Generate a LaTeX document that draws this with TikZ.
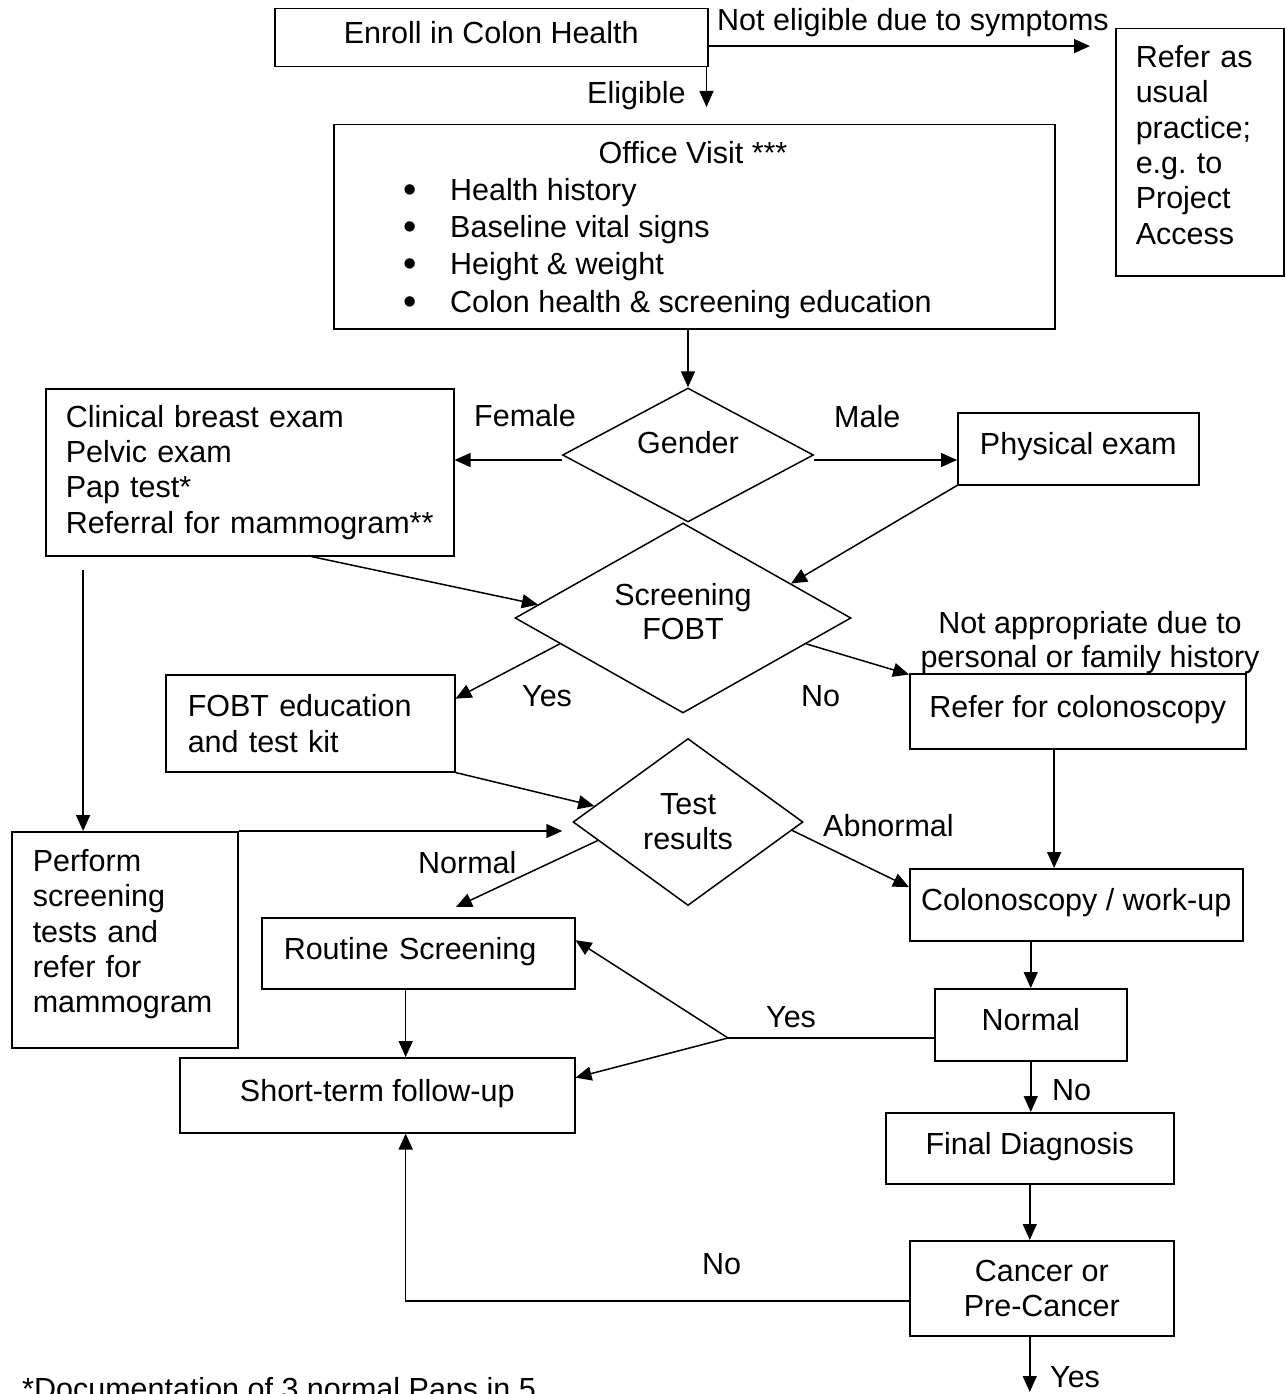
\documentclass[tikz,border=0pt]{standalone}
\usepackage{fontspec}
\setmainfont{Liberation Sans}
\usetikzlibrary{arrows.meta,shapes.geometric,calc}
\frenchspacing
\begin{document}
\begin{tikzpicture}[x=1pt,y=-1pt,
  every node/.style={font=\fontsize{30.5}{35.3}\selectfont},
  box/.style={draw, line width=1.5pt, anchor=north west, inner sep=0pt},
  one/.style={text height=22pt, text depth=10pt},
  dia/.style={draw, diamond, line width=1.5pt, inner sep=0pt},
  txt/.style={inner sep=0pt, align=center},
  lbl/.style={anchor=base west, inner sep=0pt},
  arr/.style={line width=1.5pt, -{Triangle[length=16pt,width=14pt]}},
  ln/.style={line width=1.5pt}]
\useasboundingbox (0,0) rectangle (1285,1394);

% boxes
\node[box,one,minimum width=433pt,minimum height=58pt] (enroll) at (274,8) {Enroll in Colon Health};
\node[box,minimum width=168pt,minimum height=247pt,align=left,text width=128pt,inner xsep=20pt] (refer) at (1115,28)
  {Refer as\\usual\\practice;\\e.g. to\\Project\\Access\rule[-15pt]{0pt}{1pt}};
\node[box,minimum width=721pt,minimum height=204pt] (office) at (333,124) {};
\node[anchor=base, inner sep=0pt] (ovtitle) at (693,164) {Office Visit ***};
\node[anchor=north west, inner sep=0pt, align=left, font=\fontsize{30.5}{37.3}\selectfont] (ovlist) at (403,178)
  {\makebox[47pt][l]{\raisebox{-2pt}{\fontsize{38}{38}\selectfont\textbullet}}Health history\\
   \makebox[47pt][l]{\raisebox{-2pt}{\fontsize{38}{38}\selectfont\textbullet}}Baseline vital signs\\
   \makebox[47pt][l]{\raisebox{-2pt}{\fontsize{38}{38}\selectfont\textbullet}}Height \& weight\\
   \makebox[47pt][l]{\raisebox{-2pt}{\fontsize{38}{38}\selectfont\textbullet}}Colon health \& screening education};
\node[box,minimum width=408pt,minimum height=167pt,align=left,text width=368pt,inner xsep=20pt] (clin) at (45,388)
  {Clinical breast exam\\Pelvic exam\\Pap test*\\Referral for mammogram**};
\node[box,one,minimum width=241pt,minimum height=72pt] (phys) at (957,412) {Physical exam};
\node[box,minimum width=289pt,minimum height=97pt,align=left,text width=245pt,inner xsep=22pt,
  font=\fontsize{30.5}{36}\selectfont] (fobtedu) at (165,674) {FOBT education\\and test kit};
\node[box,one,minimum width=336pt,minimum height=75pt] (refcol) at (909,673) {Refer for colonoscopy};
\node[box,minimum width=226pt,minimum height=216pt,align=left,text width=184pt,inner xsep=21pt] (perform) at (11,831)
  {Perform\\screening\\tests and\\refer for\\mammogram\rule[-17pt]{0pt}{1pt}};
\node[box,one,minimum width=333pt,minimum height=72pt] (colon) at (909,868) {Colonoscopy / work-up};
\node[box,one,minimum width=313pt,minimum height=71pt,align=left,text width=269pt,inner xsep=22pt] (routine) at (261,917) {Routine Screening};
\node[box,one,minimum width=192pt,minimum height=72pt] (normal) at (934,988) {Normal};
\node[box,one,minimum width=395pt,minimum height=75pt] (short) at (179,1057) {Short-term follow-up};
\node[box,one,minimum width=288pt,minimum height=71pt] (final) at (885,1112) {Final Diagnosis};
\node[box,minimum width=264pt,minimum height=95pt,align=center,font=\fontsize{30.5}{35}\selectfont] (cancer) at (909,1240) {Cancer or\\Pre-Cancer};

% diamonds
\node[dia,minimum width=251pt,minimum height=134pt] (gender) at (688,455) {};
\node[txt] (gtext) at (688,443) {Gender};
\node[dia,minimum width=336pt,minimum height=190pt] (fobt) at (683,618) {};
\node[txt,font=\fontsize{30.5}{34}\selectfont] (ftext) at (683,612) {Screening\\FOBT};
\node[dia,minimum width=230pt,minimum height=167pt] (test) at (688,822) {};
\node[txt,font=\fontsize{30.5}{35}\selectfont] (ttext) at (688,822) {Test\\results};

% labels
\node[lbl] (l1) at (717,31) {Not eligible due to symptoms};
\node[lbl] (l2) at (587,104) {Eligible};
\node[lbl] (l3) at (474,426) {Female};
\node[lbl] (l4) at (834,427) {Male};
\node[lbl] (l5) at (522,706) {Yes};
\node[lbl] (l6) at (801,706) {No};
\node[txt,anchor=north,font=\fontsize{30.5}{34}\selectfont] (l7) at (1090,611) {Not appropriate due to\\personal or family history};
\node[lbl] (l8) at (418,873) {Normal};
\node[lbl] (l9) at (823,836) {Abnormal};
\node[lbl] (l10) at (766,1027) {Yes};
\node[lbl] (l11) at (1052,1100) {No};
\node[lbl] (l12) at (702,1274) {No};
\node[lbl] (l13) at (1050,1387) {Yes};
\node[lbl] (foot) at (22,1399) {*Documentation of 3 normal Paps in 5};

% connectors
\coordinate (e1) at ($(enroll.north east)!0.64!(enroll.south east)$);
\draw[arr,shorten >=25pt] (e1) -- (e1 -| refer.west);
\coordinate (e2) at ([xshift=-2pt]enroll.south east);
\draw[arr,shorten >=17pt] (e2) -- (e2 |- office.north);
\draw[arr] (office.south -| gender.north) -- (gender.north);
\draw[arr] ([yshift=-5pt]gender.west) -- ([yshift=-5pt]gender.west -| clin.east);
\draw[arr] ([yshift=-5pt]gender.east) -- ([yshift=-5pt]gender.east -| phys.west);
\draw[arr] ($(clin.south west)!0.65!(clin.south east)$) -- ($(fobt.west)!0.14!(fobt.north)$);
\draw[arr] (phys.south west) -- ($(fobt.north)!0.64!(fobt.east)$);
\draw[arr] ($(fobt.west)!0.27!(fobt.south)$) -- ($(fobtedu.north east)!0.25!(fobtedu.south east)$);
\draw[arr] ($(fobt.east)!0.27!(fobt.south)$) -- ($(refcol.north west)!0.02!(refcol.south west)$);
\coordinate (c1) at ($(clin.south west)!0.093!(clin.south east)$);
\draw[arr,shorten <=13pt] (c1) -- (c1 |- perform.north);
\draw[arr,shorten >=10pt] (perform.north east) -- (perform.north east -| test.west);
\draw[arr] (fobtedu.south east) -- ($(test.west)!0.19!(test.north)$);
\draw[arr] ($(test.west)!0.22!(test.south)$) -- ($(routine.north west)!0.62!(routine.north east)+(0,-10)$);
\draw[arr] ($(test.east)!0.1!(test.south)$) -- ($(colon.north west)!0.26!(colon.south west)$);
\coordinate (c2) at ($(refcol.south west)!0.43!(refcol.south east)$);
\draw[arr] (c2) -- (c2 |- colon.north);
\draw[arr] (normal.north |- colon.south) -- (normal.north);
\coordinate (n1) at ($(normal.north west)!0.68!(normal.south west)$);
\coordinate (j) at (n1 -| 728,0);
\draw[ln] (n1) -- (j);
\draw[arr] (j) -- ($(routine.north east)!0.32!(routine.south east)$);
\draw[arr] (j) -- ($(short.north east)!0.27!(short.south east)$);
\coordinate (r1) at ($(routine.south west)!0.46!(routine.south east)$);
\draw[arr] (r1) -- (r1 |- short.north);
\draw[arr] (normal.south) -- (normal.south |- final.north);
\draw[arr] (final.south) -- (final.south |- cancer.north);
\coordinate (k1) at ($(cancer.north west)!0.63!(cancer.south west)$);
\draw[arr] (k1) -- (k1 -| r1) -- (r1 |- short.south);
\coordinate (yend) at (final.south |- 0,1392);
\draw[arr] (final.south |- cancer.south) -- (yend);
\end{tikzpicture}
\end{document}
